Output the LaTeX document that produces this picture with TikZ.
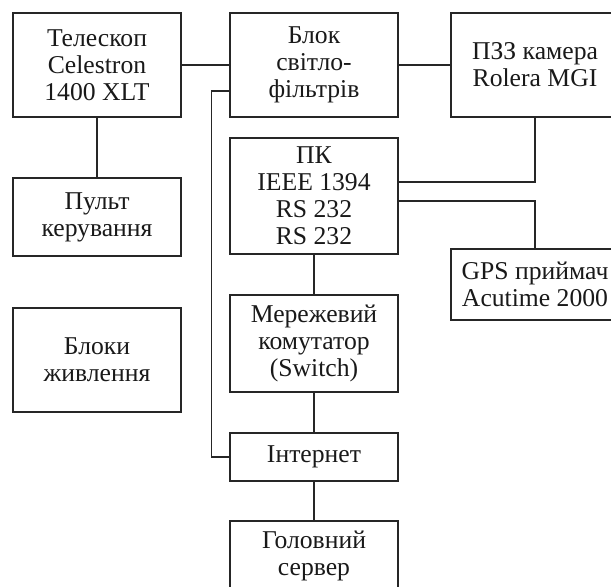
\documentclass[tikz,border=0pt]{standalone}
\usepackage{fontspec}
\setmainfont{Liberation Serif}
\tikzset{blk/.style={draw, black!85, text=black!90, line width=0.6pt, minimum width=3.36cm, inner sep=0pt, align=center, font=\fontsize{14.6}{15.4}\selectfont}}
\begin{document}
\begin{tikzpicture}[x=0.02cm,y=-0.02cm]
    \useasboundingbox (0,0) rectangle (611,586);
    \node[blk, minimum height=2.08cm] (tel) at (97,65) {Телескоп\\Celestron\\1400 XLT};
    \node[blk, minimum height=2.08cm] (filt) at (314,65) {Блок\\світло-\\фільтрів};
    \node[blk, minimum height=2.08cm] (cam) at (535,65) {ПЗЗ камера\\Rolera MGI};
    \node[blk, minimum height=1.56cm] (pult) at (97,217) {Пульт\\керування};
    \node[blk, minimum height=2.32cm] (pc) at (314,196) {ПК\\IEEE 1394\\RS 232\\RS 232};
    \node[blk, minimum height=1.42cm] (gps) at (535,284.5) {GPS приймач\\Acutime 2000};
    \node[blk, minimum height=2.08cm] (pwr) at (97,360) {Блоки\\живлення};
    \node[blk, minimum height=1.94cm] (sw) at (314,343.5) {Мережевий\\комутатор\\(Switch)};
    \node[blk, minimum height=0.96cm] (inet) at (314,457) {Інтернет};
    \node[blk, minimum height=1.40cm] (srv) at (314,556) {Головний\\сервер};
    \begin{scope}[black!85, line width=0.6pt]
    \draw (tel) -- (filt);
    \draw (filt) -- (cam);
    \draw (tel) -- (pult);
    \draw ([yshift=-0.52cm]filt.west) -- ++(-0.36cm,0) |- (inet.west);
    \draw (cam.south) |- ([yshift=0.28cm]pc.east);
    \draw ([yshift=-0.1cm]pc.east) -| (gps.north);
    \draw (pc) -- (sw);
    \draw (sw) -- (inet);
    \draw (inet) -- (srv);
    \end{scope}
\end{tikzpicture}
\end{document}
